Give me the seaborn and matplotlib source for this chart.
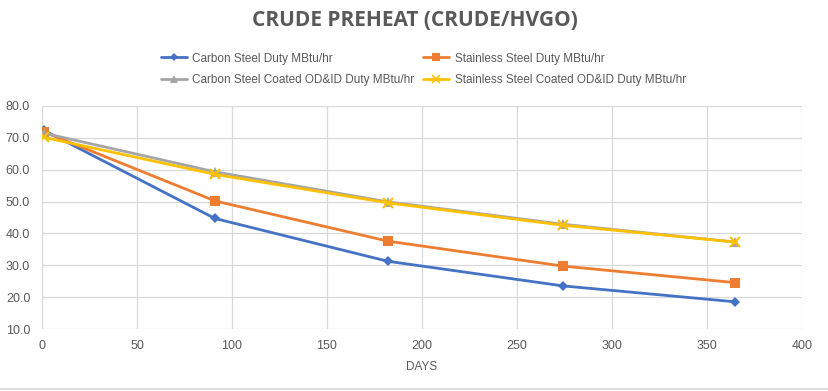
import pandas as pd
import matplotlib
matplotlib.use('Agg')
import matplotlib.pyplot as plt
from matplotlib.lines import Line2D
import seaborn as sns

# Data
days = [1, 91, 182, 274, 365]
carbon_steel = [72.3, 44.7, 31.3, 23.6, 18.6]
stainless_steel = [71.8, 50.2, 37.6, 29.8, 24.6]
carbon_steel_coated = [71.4, 59.3, 49.9, 42.9, 37.3]
stainless_steel_coated = [70.1, 58.5, 49.6, 42.6, 37.3]

series_names = ['Carbon Steel Duty MBtu/hr',
                'Stainless Steel Duty MBtu/hr',
                'Carbon Steel Coated OD&ID Duty MBtu/hr',
                'Stainless Steel Coated OD&ID Duty MBtu/hr']
x_ticks = [0, 50, 100, 150, 200, 250, 300, 350, 400]
y_ticks = [10, 20, 30, 40, 50, 60, 70, 80]

# Styling
colors = ['#4472C4', '#ED7D31', '#A5A5A5', '#FFC000']
markers = ['D', 's', '^', 'x']
marker_sizes = [5.5, 7, 7, 7]
text_color = '#595959'
grid_color = '#D9D9D9'

sns.set_style('white')
plt.rcParams['font.family'] = ['Liberation Sans', 'DejaVu Sans']


# Build a long table for seaborn
def build_frame():
    values = [carbon_steel, stainless_steel, carbon_steel_coated, stainless_steel_coated]
    frames = []
    for name, vals in zip(series_names, values):
        frames.append(pd.DataFrame({'Days': days, 'Duty': vals, 'Series': name}))
    return pd.concat(frames, ignore_index=True)


def draw_chart(df):
    fig = plt.figure(figsize=(8.29, 3.91), dpi=100)
    ax = fig.add_axes([42 / 829, 1 - 329.3 / 391, 760 / 829, 223.6 / 391])

    # One series at a time so the drawing order matches the original
    for i, name in enumerate(series_names):
        sub = df[df['Series'] == name]
        sns.lineplot(data=sub, x='Days', y='Duty', ax=ax, color=colors[i],
                     marker=markers[i], markersize=marker_sizes[i],
                     markeredgewidth=1.5 if markers[i] == 'x' else 0,
                     markeredgecolor=colors[i], linewidth=2,
                     legend=False, zorder=3 + i)

    ax.set_xlim(0, 400)
    ax.set_ylim(10, 80)
    ax.set_xticks(x_ticks)
    ax.set_yticks(y_ticks)
    ax.set_yticklabels([f'{v:.1f}' for v in y_ticks])
    ax.tick_params(axis='both', colors=text_color, labelsize=9, length=0)
    ax.tick_params(axis='x', pad=8)
    ax.tick_params(axis='y', pad=8.5)
    ax.grid(True, color=grid_color, linewidth=0.9)
    for s in ax.spines.values():
        s.set_visible(False)
    ax.set_xlabel('DAYS', color=text_color, fontsize=8.5, labelpad=6)
    ax.set_ylabel('')

    # Title
    fig.text(0.5, 1 - 20 / 391, 'CRUDE PREHEAT (CRUDE/HVGO)', ha='center', va='center',
             fontsize=15, fontweight='bold', color=text_color,
             family=['Open Sans', 'DejaVu Sans'])

    # Legend in two columns above the plot, filled row by row
    handles = []
    for i, name in enumerate(series_names):
        handles.append(Line2D([0], [0], color=colors[i], lw=2, marker=markers[i],
                              markersize=marker_sizes[i] - 1,
                              markeredgewidth=1.2 if markers[i] == 'x' else 0,
                              markeredgecolor=colors[i], label=name))
    handles = [handles[0], handles[2], handles[1], handles[3]]
    fig.legend(handles=handles, ncol=2, loc='upper left',
               bbox_to_anchor=(157 / 829, 1 - 49 / 391), frameon=False,
               fontsize=8.5, labelcolor=text_color, handlelength=2.2,
               handletextpad=0.45, columnspacing=0.8, labelspacing=0.8,
               borderaxespad=0, borderpad=0.3)

    # Light border at the bottom of the chart area
    fig.add_artist(Line2D([0, 1], [2.5 / 391, 2.5 / 391], color=grid_color, lw=1.2,
                          transform=fig.transFigure))

    fig.savefig('out.png', dpi=100)


if __name__ == "__main__":
    df = build_frame()
    draw_chart(df)
